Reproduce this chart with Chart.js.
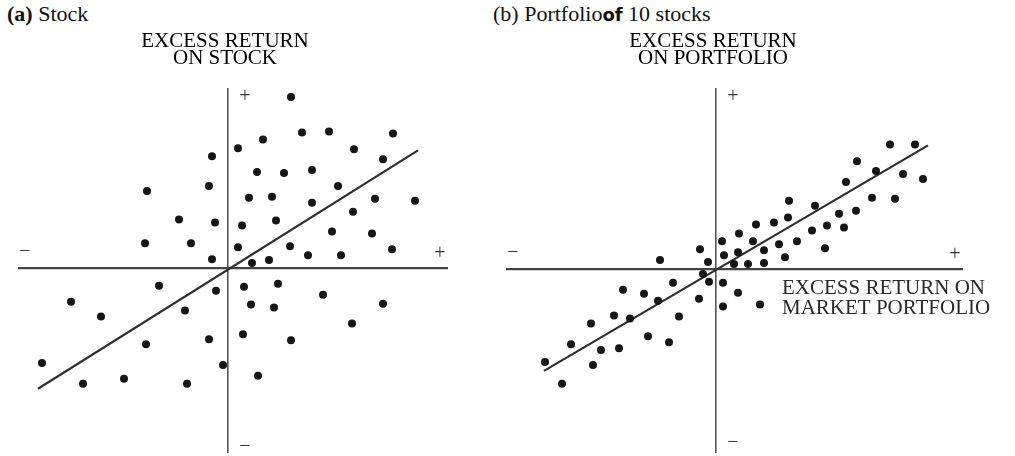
<!DOCTYPE html>
<html>
<head>
<meta charset="utf-8">
<script src="https://cdn.jsdelivr.net/npm/chart.js@4.4.1/dist/chart.umd.min.js"></script>
<style>
body { margin: 0; background: #fff; width: 1015px; height: 456px; overflow: hidden; position: relative; font-family: "Liberation Serif", serif; }
.hd { position: absolute; top: 2px; font-size: 22px; line-height: 24px; color: #111; white-space: nowrap; }
.hd .sans { font-family: "DejaVu Sans", sans-serif; font-size: 18px; font-weight: bold; }
#wa { position: absolute; left: 0; top: 0; }
#wb { position: absolute; left: 480px; top: 0; }
</style>
</head>
<body>
<div class="hd" style="left:7px"><b>(a)</b> Stock</div>
<div class="hd" style="left:493px">(b) Portfolio<span class="sans">of</span> 10 stocks</div>
<div id="wa"><canvas id="ca" width="480" height="456"></canvas></div>
<div id="wb"><canvas id="cb" width="535" height="456"></canvas></div>
<script>
// (a) single stock: excess return on market (x) vs on stock (y)
const stockX = [-1.6, -1.9, -8.1, -4.9, -1.3, -8.3, -3.7, 1.0, -1.6, 1.0,
  6.3, 7.4, 10.1, 16.5, 3.5, 12.6, 15.5, 2.9, 5.6, 8.4,
  11.0, 2.1, 4.4, 8.4, 14.7, 18.7, 12.5, 1.4, 4.8, 10.4,
  14.4, 6.2, 8.0, 11.3, 16.4, 2.4, 4.1, -6.9, -1.2, -15.7,
  -12.7, -4.3, -1.9, -8.2, -18.6, -0.5, -14.5, -10.4, -4.1, 1.6,
  5.0, 9.5, 2.3, 4.6, 15.5, 12.4, 1.5, 6.3, 3.0];
const stockY = [11.3, 8.3, 7.8, 4.9, 4.6, 2.5, 2.5, 2.1, 0.9, 12.1,
  17.3, 13.7, 13.8, 13.6, 13.0, 12.0, 11.0, 9.7, 9.6, 9.9,
  8.3, 7.1, 7.2, 6.6, 7.0, 6.8, 5.7, 4.3, 4.8, 3.7,
  3.5, 2.2, 1.3, 1.3, 1.9, 0.5, 0.8, -1.8, -2.3, -3.4,
  -4.9, -4.3, -7.2, -7.7, -9.6, -9.8, -11.7, -11.2, -11.7, -1.9,
  -1.6, -2.7, -3.7, -4.0, -3.6, -5.6, -6.7, -7.3, -10.9];
const stockLineX = [-19.0, 19.0];
const stockLineY = [-12.2, 11.9];

// (b) portfolio of 10 stocks
const portX = [-5.6, -1.6, -0.8, 0.6, 17.4, 19.9, 14.1, 16.0, 18.7, 20.7,
  13.0, 7.3, 9.9, 15.6, 17.9, 12.3, 14.0, 7.2, 4.0, 5.8,
  9.6, 11.1, 12.8, 2.3, 3.7, 6.3, 8.1, 0.8, 2.2, 4.8,
  6.9, 10.9, 1.8, 3.2, 4.8, -1.3, -0.7, -4.3, -9.3, -7.2,
  -5.8, -1.7, -10.2, -8.6, -3.7, -12.5, -6.8, -4.7, -14.5, -11.5,
  -9.7, -17.1, -12.3, -15.4, 0.7, 2.2, 0.7, 4.4];
const portY = [0.9, 2.0, 0.7, 2.8, 12.6, 12.6, 10.9, 9.9, 9.6, 9.1,
  8.8, 6.9, 6.4, 7.2, 7.1, 5.6, 5.9, 5.2, 4.5, 4.7,
  3.9, 4.4, 4.2, 3.6, 2.8, 2.5, 2.8, 1.4, 1.7, 1.9,
  1.2, 2.1, 0.5, 0.5, 0.6, -0.5, -1.3, -1.4, -2.1, -2.5,
  -3.2, -3.0, -4.7, -5.0, -4.8, -5.5, -6.8, -7.4, -7.6, -8.2,
  -8.0, -9.4, -9.7, -11.6, -1.4, -2.4, -3.8, -3.6];
const portLineX = [-17.2, 21.2];
const portLineY = [-10.3, 12.5];

const pts = (xs, ys) => xs.map((x, i) => ({ x: x, y: ys[i] }));

// axis end signs and titles, placed from the scales
const axisText = {
  id: 'axisText',
  afterDraw(chart, args, o) {
    const ctx = chart.ctx, a = chart.chartArea;
    const ox = chart.scales.x.getPixelForValue(0);
    const oy = chart.scales.y.getPixelForValue(0);
    ctx.save();
    ctx.textAlign = 'center';
    ctx.textBaseline = 'middle';
    ctx.fillStyle = '#000';
    ctx.font = '21px "Liberation Serif", serif';
    o.yTitle.forEach((t, i) => ctx.fillText(t, ox - 3, a.top - 48 + i * 17));
    ctx.fillStyle = '#333';
    ctx.font = '20px "Liberation Serif", serif';
    ctx.fillText('+', ox + 17, a.top + 8);
    ctx.fillText('+', a.right - o.plusR, oy - 14);
    ctx.fillText('\u2212', a.left + 6, oy - 16);
    ctx.fillText('\u2212', ox + 17, a.bottom - o.minusB);
    if (o.xTitle) {
      ctx.textAlign = 'left';
      ctx.fillStyle = '#2a2a2a';
      ctx.font = '21px "Liberation Serif", serif';
      o.xTitle.forEach((t, i) => ctx.fillText(t, ox + 66, oy + 19 + i * 20));
    }
    ctx.restore();
  }
};

function makeChart(id, xs, ys, lx, ly, xr, yr, pad, txt) {
  return new Chart(document.getElementById(id), {
    type: 'scatter',
    data: {
      datasets: [
        { data: pts(xs, ys), pointRadius: 4, backgroundColor: '#161616', borderWidth: 0 },
        { type: 'line', data: pts(lx, ly), borderColor: '#2e2e2e', borderWidth: 2.2, pointRadius: 0, fill: false }
      ]
    },
    options: {
      responsive: false,
      animation: false,
      devicePixelRatio: 1,
      layout: { padding: pad },
      plugins: { legend: { display: false }, tooltip: { enabled: false }, axisText: txt },
      scales: {
        x: { type: 'linear', min: xr[0], max: xr[1], position: { y: 0 },
             grid: { display: false }, ticks: { display: false },
             border: { display: true, color: '#444', width: 2.2 } },
        y: { type: 'linear', min: yr[0], max: yr[1], position: { x: 0 },
             grid: { display: false }, ticks: { display: false },
             border: { display: true, color: '#555', width: 1.6 } }
      }
    },
    plugins: [axisText]
  });
}

makeChart('ca', stockX, stockY, stockLineX, stockLineY, [-20.9, 21.9], [-18.6, 18.1],
  { left: 19, right: 33, top: 89, bottom: 0 },
  { yTitle: ['EXCESS RETURN', 'ON STOCK'], plusR: 7, minusB: 5 });
makeChart('cb', portX, portY, portLineX, portLineY, [-20.9, 24.6], [-18.5, 18.2],
  { left: 27, right: 53, top: 89, bottom: 0 },
  { yTitle: ['EXCESS RETURN', 'ON PORTFOLIO'], xTitle: ['EXCESS RETURN ON', 'MARKET PORTFOLIO'], plusR: 7, minusB: 9 });
</script>
</body>
</html>
